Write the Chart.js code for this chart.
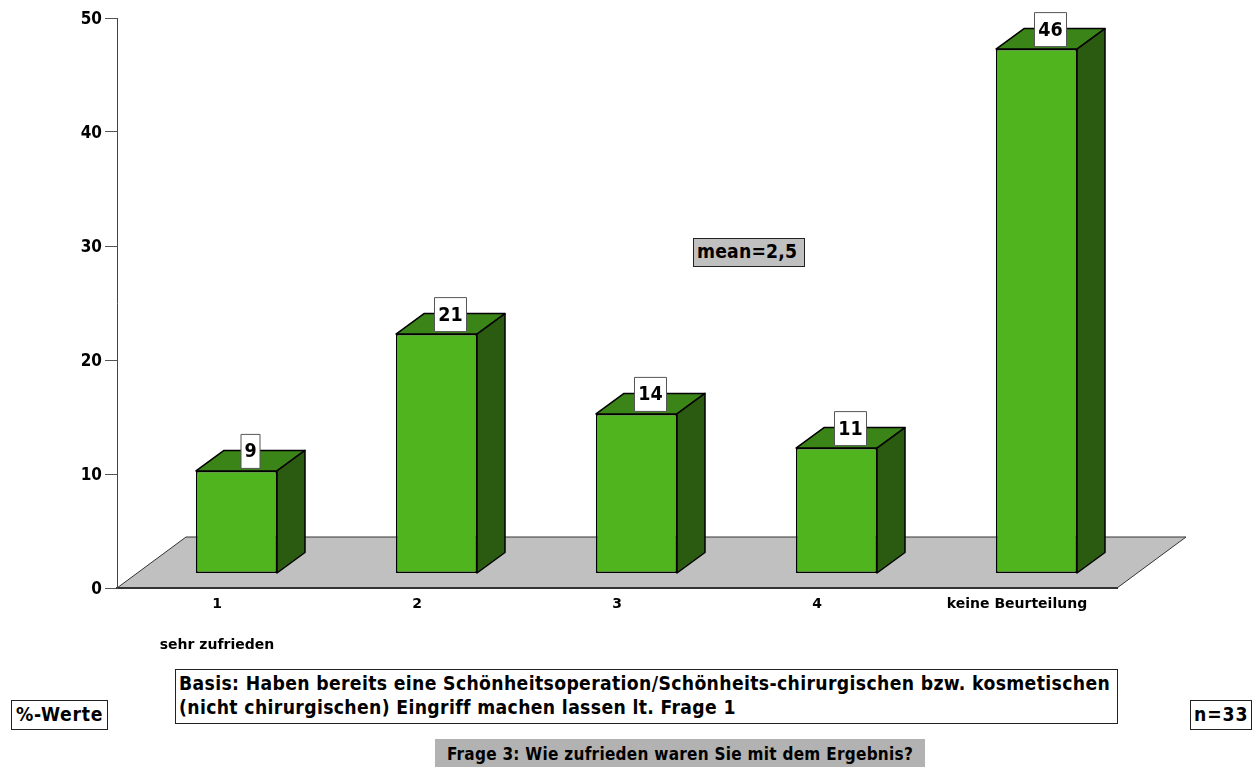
<!DOCTYPE html>
<html lang="de">
<head>
<meta charset="utf-8">
<title>Frage 3</title>
<script src="https://cdn.jsdelivr.net/npm/chart.js@4"></script>
<style>
html,body{margin:0;padding:0;background:#fff;width:1258px;height:767px;overflow:hidden}
#wrap{position:relative;width:1258px;height:767px}
canvas{position:absolute;left:0;top:0}
.box{position:absolute;box-sizing:border-box;font:bold 19.2px "DejaVu Sans Condensed","DejaVu Sans",sans-serif;color:#000;white-space:nowrap}
.line{border:1px solid #222;background:#fff}
</style>
</head>
<body>
<div id="wrap">
<canvas id="c" width="1258" height="767"></canvas>
<div class="box line" style="left:693px;top:238px;width:112px;height:29px;background:#c0c0c0;line-height:25px;padding-left:3px;letter-spacing:.2px">mean=2,5</div>
<div class="box line" style="left:11px;top:700px;width:97px;height:30px;line-height:28px;padding-left:4px;letter-spacing:.7px">%-Werte</div>
<div class="box line" style="left:175px;top:669px;width:943px;height:55px;line-height:24px;padding:2px 0 0 3px;letter-spacing:.35px">Basis: Haben bereits eine Schönheitsoperation/Schönheits-chirurgischen bzw. kosmetischen<br>(nicht chirurgischen) Eingriff machen lassen lt. Frage 1</div>
<div class="box line" style="left:1190px;top:700px;width:62px;height:30px;line-height:28px;padding-left:3px;letter-spacing:.9px">n=33</div>
<div class="box" style="left:435px;top:739px;width:490px;height:28px;background:#b2b2b2;font-size:17px;line-height:31px;text-align:center;letter-spacing:.28px">Frage 3: Wie zufrieden waren Sie mit dem Ergebnis?</div>
</div>
<script>
const categories = [["1", "", "sehr zufrieden"], "2", "3", "4", "keine Beurteilung"];
const values = [9, 21, 14, 11, 46];
const yMin = 0, yMax = 50, yStep = 10;

const FONT = '"DejaVu Sans",sans-serif';
const FONT_COND = '"DejaVu Sans Condensed","DejaVu Sans",sans-serif';
const FRONT = '#50b41e', TOP = '#3b8518', SIDE = '#2a5b10', FLOOR = '#c0c0c0';
const BAR_SHIFT_X = 19.5, BAR_SHIFT_Y = -14.5;
const DEPTH_X = 28, DEPTH_Y = -20.5;
const FLOOR_DX = 69, FLOOR_DY = -51;

const floorPlugin = {
  id: 'floor',
  beforeDraw(chart) {
    const {left, right, bottom} = chart.chartArea, c = chart.ctx;
    c.save();
    c.beginPath();
    c.moveTo(left, bottom);
    c.lineTo(left + FLOOR_DX, bottom + FLOOR_DY);
    c.lineTo(right + FLOOR_DX, bottom + FLOOR_DY);
    c.lineTo(right, bottom);
    c.closePath();
    c.fillStyle = FLOOR;
    c.fill();
    c.strokeStyle = '#333';
    c.lineWidth = 1;
    c.stroke();
    c.restore();
  }
};

const bars3d = {
  id: 'bars3d',
  beforeDatasetsDraw(chart) {
    const c = chart.ctx;
    c.save();
    c.translate(BAR_SHIFT_X, BAR_SHIFT_Y);
  },
  afterDatasetsDraw(chart) {
    const c = chart.ctx;
    const els = chart.getDatasetMeta(0).data;
    c.lineWidth = 1.5;
    c.strokeStyle = '#000';
    c.lineJoin = 'round';
    const labels = [];
    els.forEach((el, i) => {
      const l = el.x - el.width / 2, r = el.x + el.width / 2, t = el.y, b = el.base;
      c.beginPath();
      c.moveTo(l, t); c.lineTo(l + DEPTH_X, t + DEPTH_Y); c.lineTo(r + DEPTH_X, t + DEPTH_Y); c.lineTo(r, t); c.closePath();
      c.fillStyle = TOP; c.fill(); c.stroke();
      c.beginPath();
      c.moveTo(r, t); c.lineTo(r + DEPTH_X, t + DEPTH_Y); c.lineTo(r + DEPTH_X, b + DEPTH_Y); c.lineTo(r, b); c.closePath();
      c.fillStyle = SIDE; c.fill(); c.stroke();
      labels.push([String(values[i]), el.x + DEPTH_X / 2, t + DEPTH_Y + 1]);
    });
    c.font = 'bold 19.5px ' + FONT_COND;
    c.textAlign = 'center';
    c.textBaseline = 'middle';
    labels.forEach(([txt, x, y]) => {
      const w = txt.length > 1 ? 32 : 19, h = 34;
      c.fillStyle = '#fff';
      c.strokeStyle = '#555';
      c.lineWidth = 1;
      c.fillRect(x - w / 2, y - h / 2, w, h);
      c.strokeRect(x - w / 2, y - h / 2, w, h);
      c.fillStyle = '#000';
      c.fillText(txt, x, y + 1);
    });
    c.restore();
  }
};

new Chart(document.getElementById('c'), {
  type: 'bar',
  data: {
    labels: categories,
    datasets: [{
      data: values,
      backgroundColor: FRONT,
      borderColor: '#000',
      borderWidth: 1.5,
      borderSkipped: false,
      barPercentage: 0.405,
      categoryPercentage: 1
    }]
  },
  options: {
    responsive: false,
    animation: false,
    layout: {padding: {top: 18, right: 141, bottom: 0, left: 0}},
    plugins: {legend: {display: false}, tooltip: {enabled: false}, title: {display: false}},
    scales: {
      x: {
        afterFit(s) { s.height = 179; },
        grid: {display: false, drawTicks: false},
        border: {color: '#333', width: 2},
        ticks: {
          color: '#000', padding: 6, maxRotation: 0, autoSkip: false,
          font: {family: FONT, weight: 'bold', size: 14, lineHeight: '20.5px'}
        }
      },
      y: {
        min: yMin, max: yMax,
        afterFit(s) { s.width = 117; },
        grid: {drawOnChartArea: false, tickLength: 12, color: '#555', tickWidth: 1},
        border: {color: '#444', width: 1},
        ticks: {
          stepSize: yStep, color: '#000', padding: 3, labelOffset: 2,
          font: {family: FONT_COND, weight: 'bold', size: 17}
        }
      }
    }
  },
  plugins: [floorPlugin, bars3d]
});
</script>
</body>
</html>
